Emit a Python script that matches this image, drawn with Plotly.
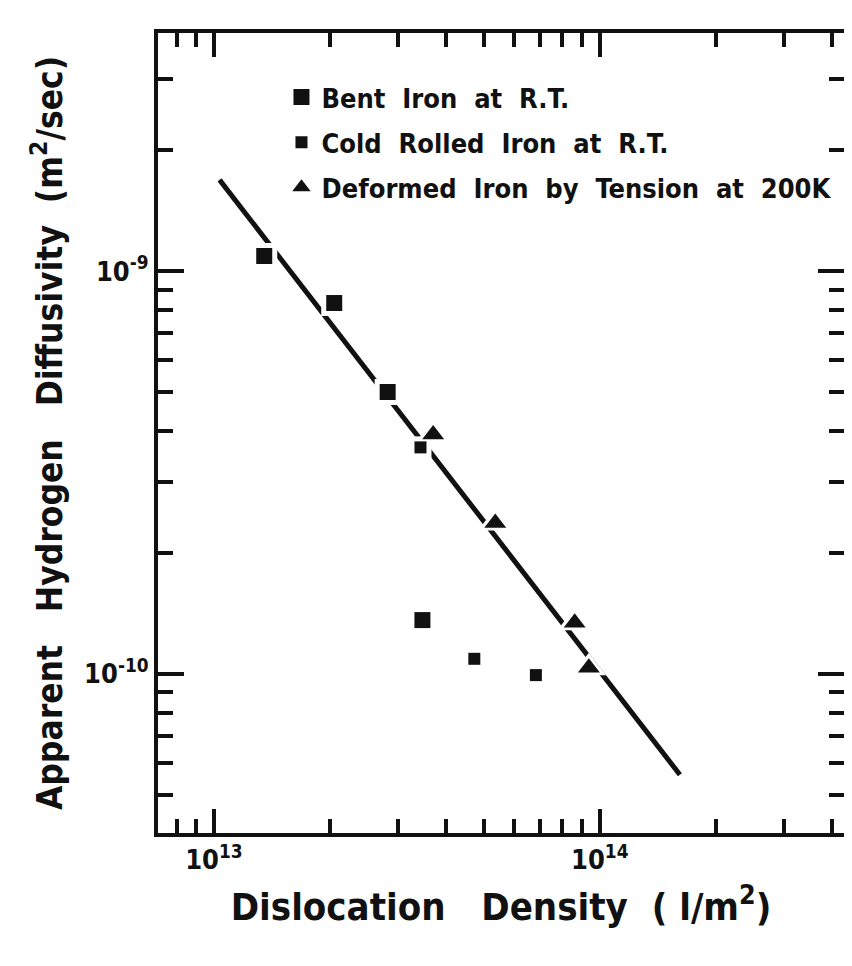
import plotly.graph_objects as go

# values
bent_x = [1.35e13, 2.05e13, 2.82e13, 3.47e13]
bent_y = [1.09e-9, 8.33e-10, 5.01e-10, 1.36e-10]

cold_x = [3.43e13, 4.73e13, 6.83e13]
cold_y = [3.65e-10, 1.09e-10, 9.93e-11]

tens_x = [3.70e13, 5.36e13, 8.61e13, 9.37e13]
tens_y = [3.93e-10, 2.37e-10, 1.34e-10, 1.035e-10]

fit_x = [1.034e13, 1.613e14]
fit_y = [1.684e-9, 5.62e-11]

x_major = [1e13, 1e14]
x_major_text = ["10<sup>13</sup>", "10<sup>14</sup>"]
x_minor = [7e12, 8e12, 9e12, 2e13, 3e13, 4e13, 5e13, 6e13, 7e13, 8e13, 9e13, 2e14, 3e14, 4e14]
y_major = [1e-10, 1e-9]
y_major_text = ["10<sup>-10</sup>", "10<sup>-9</sup>"]
y_minor = [5e-11, 6e-11, 7e-11, 8e-11, 9e-11, 2e-10, 3e-10, 4e-10, 5e-10, 6e-10,
           7e-10, 8e-10, 9e-10, 2e-9, 3e-9]

FONT = "Liberation Sans Narrow, DejaVu Sans Condensed, Liberation Sans, sans-serif"
INK = "#111111"

fig = go.Figure()

fig.add_trace(go.Scatter(
    x=fit_x, y=fit_y, mode="lines",
    line=dict(color=INK, width=5),
    showlegend=False, hoverinfo="skip",
))

# white halos so the line breaks around the symbols, as in the original
for xs, ys, sym, size in [(bent_x, bent_y, "square", 26), (cold_x, cold_y, "square", 22),
                          (tens_x, tens_y, "triangle-up", 30)]:
    fig.add_trace(go.Scatter(
        x=xs, y=ys, mode="markers",
        marker=dict(symbol=sym, size=size, color="white"),
        showlegend=False, hoverinfo="skip",
    ))

fig.add_trace(go.Scatter(
    x=bent_x, y=bent_y, mode="markers", name="Bent  Iron  at  R.T.",
    legendgroup="a",
    marker=dict(symbol="square", size=16, color=INK),
))
fig.add_trace(go.Scatter(
    x=cold_x, y=cold_y, mode="markers", name="Cold  Rolled  Iron  at  R.T.",
    legendgroup="b",
    marker=dict(symbol="square", size=12, color=INK),
))
fig.add_trace(go.Scatter(
    x=tens_x, y=tens_y, mode="markers", name="Deformed  Iron  by  Tension  at  200K",
    legendgroup="c",
    marker=dict(symbol="triangle-up", size=19, color=INK),
))

axis_common = dict(
    type="log",
    showgrid=False,
    zeroline=False,
    showline=True,
    linecolor=INK,
    linewidth=4,
    mirror="allticks",
    ticks="inside",
    tickcolor=INK,
    tickwidth=4,
    tickmode="array",
    tickfont=dict(family=FONT, size=27, color=INK, weight="bold"),
)

fig.update_xaxes(
    **axis_common,
    range=[12.855, 14.633],
    tickvals=x_major,
    ticktext=x_major_text,
    ticklen=24,
    minor=dict(tickmode="array", tickvals=x_minor, ticks="inside", ticklen=14,
               tickwidth=4, tickcolor=INK, showgrid=False),
    title=dict(text="Dislocation   Density  ( l/m<sup>2</sup>)",
               font=dict(family=FONT, size=38, color=INK, weight="bold"), standoff=20),
)
fig.update_yaxes(
    **axis_common,
    range=[-10.395, -8.409],
    tickvals=y_major,
    ticktext=y_major_text,
    ticklen=26,
    minor=dict(tickmode="array", tickvals=y_minor, ticks="inside", ticklen=15,
               tickwidth=4, tickcolor=INK, showgrid=False),
    title=dict(text="Apparent   Hydrogen   Diffusivity  (m<sup>2</sup>/sec)",
               font=dict(family=FONT, size=35, color=INK, weight="bold"), standoff=12),
)

fig.update_layout(
    width=852,
    height=966,
    margin=dict(l=150, r=14, t=25, b=141),
    plot_bgcolor="white",
    paper_bgcolor="white",
    font=dict(family=FONT, color=INK),
    legend=dict(
        x=0.18, y=0.95, xanchor="left", yanchor="top",
        bgcolor="rgba(0,0,0,0)",
        font=dict(family=FONT, size=27, color=INK, weight="bold"),
        tracegroupgap=7,
        itemwidth=30,
    ),
)

fig.write_html("out.html")
